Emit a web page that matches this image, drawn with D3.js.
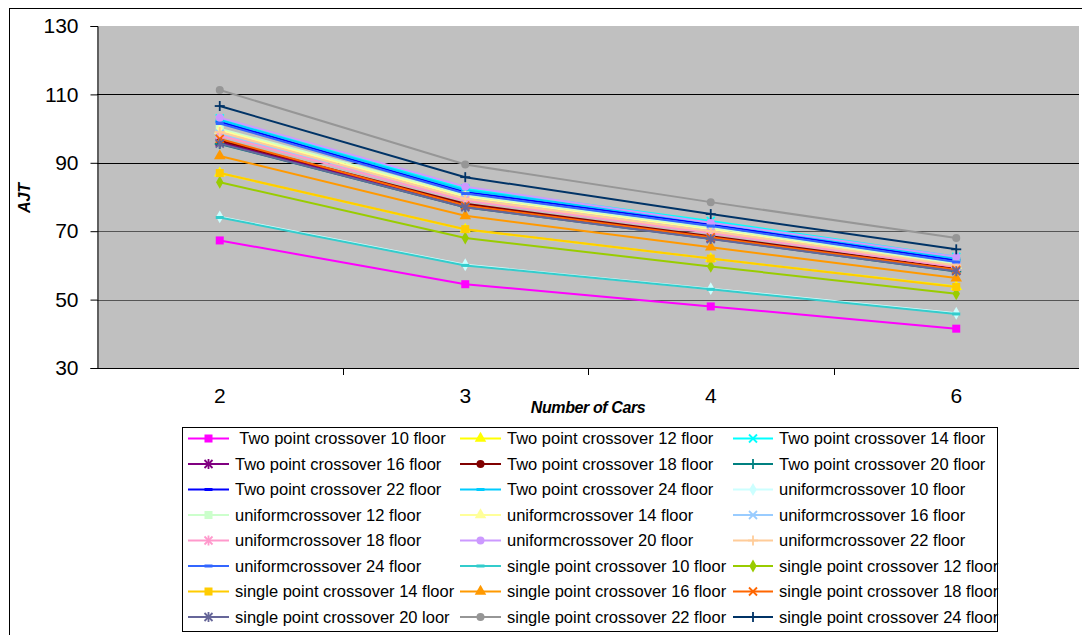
<!DOCTYPE html>
<html>
<head>
<meta charset="utf-8">
<script src="https://cdn.jsdelivr.net/npm/d3@7"></script>
<style>
  body { margin: 0; background: #fff; }
  svg text { font-family: "Liberation Sans", Arial, sans-serif; }
</style>
</head>
<body>
<svg id="chart" width="1082" height="635"></svg>
<script>
// ---- data ----
var categories = ["2", "3", "4", "6"];
var yTicks = [30, 50, 70, 90, 110, 130];

var seriesNames = [
  " Two point crossover 10 floor", "Two point crossover 12 floor", "Two point crossover 14 floor",
  "Two point crossover 16 floor", "Two point crossover 18 floor", "Two point crossover 20 floor",
  "Two point crossover 22 floor", "Two point crossover 24 floor",
  "uniformcrossover 10 floor", "uniformcrossover 12 floor", "uniformcrossover 14 floor",
  "uniformcrossover 16 floor", "uniformcrossover 18 floor", "uniformcrossover 20 floor",
  "uniformcrossover 22 floor", "uniformcrossover 24 floor",
  "single point crossover 10 floor", "single point crossover 12 floor", "single point crossover 14 floor",
  "single point crossover 16 floor", "single point crossover 18 floor", "single point crossover 20 loor",
  "single point crossover 22 floor", "single point crossover 24 floor"
];

// floors 10..24, one row per series, values for 2,3,4,6 cars
var twoPoint = [
  [67.3, 54.5, 48.0, 41.5],
  [87.0, 70.5, 62.0, 53.8],
  [103.0, 82.5, 73.0, 62.5],
  [96.0, 77.5, 68.0, 58.5],
  [96.5, 78.0, 68.5, 59.0],
  [95.5, 77.0, 67.8, 58.2],
  [102.0, 81.5, 72.0, 61.5],
  [102.5, 82.0, 72.5, 62.0]
];
var uniform = [
  [74.2, 60.2, 53.2, 46.0],
  [100.0, 80.5, 71.0, 60.5],
  [99.5, 80.0, 70.5, 60.0],
  [98.5, 79.5, 70.0, 59.8],
  [98.0, 79.0, 69.5, 59.5],
  [103.2, 83.0, 72.5, 62.5],
  [99.0, 79.5, 70.0, 60.0],
  [101.5, 81.0, 71.5, 61.0]
];
var singlePoint = [
  [74.0, 60.0, 53.0, 45.8],
  [84.3, 68.0, 59.7, 51.7],
  [87.0, 70.6, 62.0, 53.7],
  [92.0, 74.5, 65.3, 56.3],
  [97.0, 77.5, 68.2, 58.7],
  [95.6, 77.0, 67.7, 58.3],
  [111.3, 89.5, 78.5, 68.0],
  [106.6, 85.8, 75.0, 64.7]
];

// ---- styles ----
var colors = [
  "#FF00FF", "#FFFF00", "#00FFFF", "#800080", "#800000", "#008080", "#0000FF", "#00CCFF",
  "#CCFFFF", "#CCFFCC", "#FFFF99", "#99CCFF", "#FF99CC", "#CC99FF", "#FFCC99", "#3366FF",
  "#33CCCC", "#99CC00", "#FFCC00", "#FF9900", "#FF6600", "#666699", "#969696", "#003366"
];
var shapes = ["square", "triangle", "x", "star", "circle", "plus", "dash", "dash", "diamond"];

var allValues = twoPoint.concat(uniform, singlePoint);
var series = seriesNames.map(function(name, i) {
  return { name: name, values: allValues[i], color: colors[i], shape: shapes[i % shapes.length] };
});

var svg = d3.select("#chart");
var pLeft = 97, pRight = 1079, pTop = 26, pBottom = 368;

var x = d3.scalePoint().domain(categories).range([pLeft, pRight]).padding(0.5);
var xb = d3.scaleBand().domain(categories).range([pLeft, pRight]);
var y = d3.scaleLinear().domain([30, 130]).range([pBottom, pTop]);

// outer frame
svg.append("rect").attr("x", 9.5).attr("y", 8.5).attr("width", 1090).attr("height", 640)
  .attr("fill", "none").attr("stroke", "#000");

// plot background
svg.append("rect").attr("x", pLeft).attr("y", pTop).attr("width", pRight - pLeft).attr("height", pBottom - pTop)
  .attr("fill", "#C0C0C0");

// gridlines
svg.append("g").selectAll("line").data(yTicks.filter(function(d) { return d > 30 && d < 130; }))
  .enter().append("line")
  .attr("x1", pLeft).attr("x2", pRight)
  .attr("y1", function(d) { return Math.round(y(d)) + 0.5; })
  .attr("y2", function(d) { return Math.round(y(d)) + 0.5; })
  .attr("stroke", function(d) { return d >= 90 ? "#000" : "#555"; });

// y axis
var yAxis = svg.append("g").attr("transform", "translate(" + (pLeft + 0.5) + ",0)")
  .call(d3.axisLeft(y).tickValues(yTicks).tickSize(7).tickPadding(12));
yAxis.select(".domain").attr("stroke", "#000");
yAxis.selectAll("text").attr("font-size", "21px").attr("fill", "#000")
  .attr("font-family", "Liberation Sans, Arial, sans-serif");

// x axis: ticks between categories
svg.append("line").attr("x1", pLeft).attr("x2", pRight).attr("y1", pBottom + 0.5).attr("y2", pBottom + 0.5)
  .attr("stroke", "#000");
svg.append("g").selectAll("line").data(categories.slice(1)).enter().append("line")
  .attr("x1", function(d) { return Math.round(xb(d)) + 0.5; })
  .attr("x2", function(d) { return Math.round(xb(d)) + 0.5; })
  .attr("y1", pBottom).attr("y2", pBottom + 7).attr("stroke", "#000");
svg.append("g").selectAll("text").data(categories).enter().append("text")
  .attr("x", function(d) { return x(d); }).attr("y", 403)
  .attr("text-anchor", "middle").attr("font-size", "21px").text(function(d) { return d; });

// axis titles
svg.append("text").attr("x", 588).attr("y", 413).attr("text-anchor", "middle")
  .attr("font-size", "16px").attr("font-weight", "bold").attr("font-style", "italic")
  .attr("letter-spacing", "-0.4px").text("Number of Cars");
svg.append("text").attr("transform", "translate(30,198) rotate(-90)").attr("text-anchor", "middle")
  .attr("font-size", "16px").attr("font-weight", "bold").attr("font-style", "italic").text("AJT");

// markers
function drawMarker(g, shape, color, s) {
  var h = s / 2;
  if (shape === "square") {
    g.append("rect").attr("x", -h).attr("y", -h).attr("width", s).attr("height", s).attr("fill", color);
  } else if (shape === "triangle") {
    g.append("path").attr("d", d3.symbol(d3.symbolTriangle, s * s * 0.9)()).attr("fill", color);
  } else if (shape === "diamond") {
    g.append("path").attr("d", d3.symbol(d3.symbolDiamond, s * s * 0.75)()).attr("fill", color);
  } else if (shape === "circle") {
    g.append("circle").attr("r", h).attr("fill", color);
  } else if (shape === "dash") {
    g.append("rect").attr("x", -h).attr("y", -1.5).attr("width", s).attr("height", 3).attr("fill", color);
  } else {
    var segs = [];
    if (shape === "x" || shape === "star") segs.push([-h, -h, h, h], [-h, h, h, -h]);
    if (shape === "star") segs.push([0, -h - 1, 0, h + 1]);
    if (shape === "plus") segs.push([-h - 1, 0, h + 1, 0], [0, -h - 1, 0, h + 1]);
    segs.forEach(function(sg) {
      g.append("line").attr("x1", sg[0]).attr("y1", sg[1]).attr("x2", sg[2]).attr("y2", sg[3])
        .attr("stroke", color).attr("stroke-width", 1.8);
    });
  }
}

var line = d3.line().x(function(d, i) { return x(categories[i]); }).y(function(d) { return y(d); });

var sg = svg.append("g").selectAll("g").data(series).enter().append("g");
sg.append("path").attr("d", function(d) { return line(d.values); })
  .attr("fill", "none").attr("stroke", function(d) { return d.color; }).attr("stroke-width", 2);
sg.each(function(d) {
  var g = d3.select(this);
  d.values.forEach(function(v, i) {
    var m = g.append("g").attr("transform", "translate(" + x(categories[i]) + "," + y(v) + ")");
    drawMarker(m, d.shape, d.color, 8);
  });
});

// legend
var lg = svg.append("g");
lg.append("rect").attr("x", 182.5).attr("y", 427.5).attr("width", 815).attr("height", 204)
  .attr("fill", "#fff").attr("stroke", "#000");
var colX = [188, 460, 733];
var colW = [41, 41, 40];
var item = lg.selectAll("g.item").data(series).enter().append("g").attr("class", "item")
  .attr("transform", function(d, i) {
    return "translate(" + colX[i % 3] + "," + (438.5 + Math.floor(i / 3) * 25.5) + ")";
  });
item.append("line").attr("x1", 0).attr("x2", function(d, i) { return colW[i % 3]; })
  .attr("y1", 0).attr("y2", 0).attr("stroke", function(d) { return d.color; }).attr("stroke-width", 2);
item.each(function(d, i) {
  var m = d3.select(this).append("g").attr("transform", "translate(" + (colW[i % 3] / 2) + ",0)");
  drawMarker(m, d.shape, d.color, 8);
});
item.append("text").attr("x", function(d, i) { return colW[i % 3] + 6; }).attr("y", 5.5)
  .attr("font-size", "16.5px").style("white-space", "pre").text(function(d) { return d.name; });
</script>
</body>
</html>
